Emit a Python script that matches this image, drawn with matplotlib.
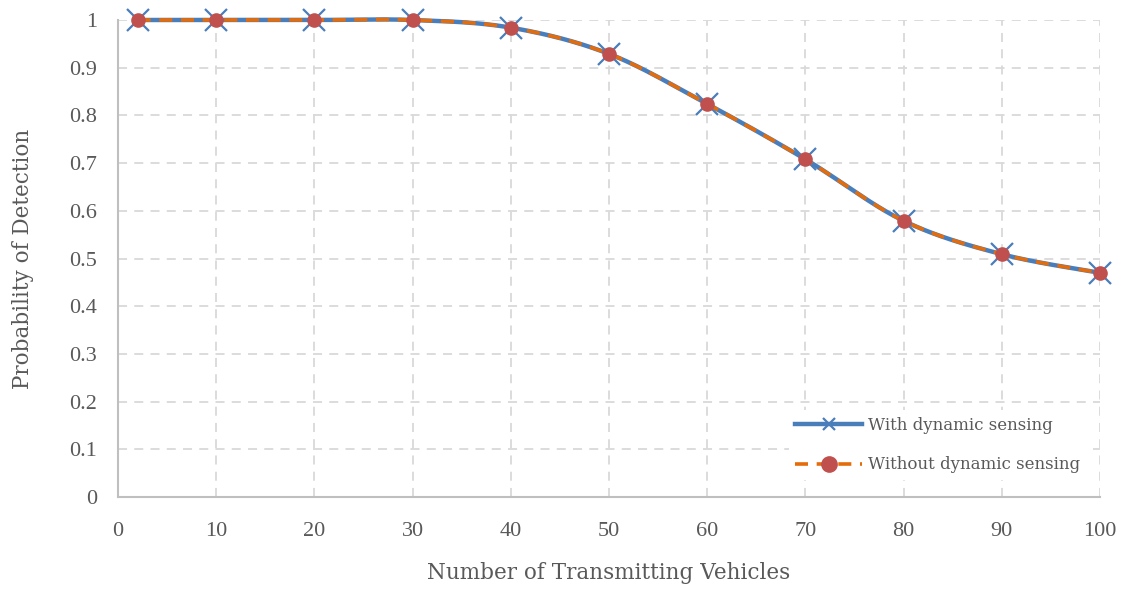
import numpy as np
import matplotlib
matplotlib.use("Agg")
import matplotlib.pyplot as plt
from matplotlib.lines import Line2D

# Data
vehicles = [2, 10, 20, 30, 40, 50, 60, 70, 80, 90, 100]
with_sensing = [1.0, 1.0, 1.0, 1.0, 0.984, 0.929, 0.824, 0.708, 0.579, 0.509, 0.470]
without_sensing = [1.0, 1.0, 1.0, 1.0, 0.984, 0.929, 0.824, 0.708, 0.579, 0.509, 0.470]
x_ticks = [0, 10, 20, 30, 40, 50, 60, 70, 80, 90, 100]
y_ticks = [0, 0.1, 0.2, 0.3, 0.4, 0.5, 0.6, 0.7, 0.8, 0.9, 1]
y_tick_labels = ["0", "0.1", "0.2", "0.3", "0.4", "0.5", "0.6", "0.7", "0.8", "0.9", "1"]


def smooth(xs, ys, n=40):
    """Catmull-Rom style smoothing (spreadsheet 'smoothed line')."""
    xs = np.asarray(xs, float)
    ys = np.asarray(ys, float)
    px = np.concatenate([[xs[0]], xs, [xs[-1]]])
    py = np.concatenate([[ys[0]], ys, [ys[-1]]])
    ox, oy = [], []
    for i in range(1, len(px) - 2):
        p0 = np.array([px[i - 1], py[i - 1]])
        p1 = np.array([px[i], py[i]])
        p2 = np.array([px[i + 1], py[i + 1]])
        p3 = np.array([px[i + 2], py[i + 2]])
        c1 = p1 + (p2 - p0) / 6.0
        c2 = p2 - (p3 - p1) / 6.0
        t = np.linspace(0, 1, n)[:, None]
        b = ((1 - t) ** 3) * p1 + 3 * ((1 - t) ** 2) * t * c1 + 3 * (1 - t) * t ** 2 * c2 + t ** 3 * p2
        ox.extend(b[:, 0])
        oy.extend(b[:, 1])
    return np.array(ox), np.array(oy)


text_font = ["DejaVu Serif"]
num_font = ["Liberation Serif", "DejaVu Serif"]
text_color = "#595959"
blue = "#4A7EBB"
orange = "#E46C0A"
red = "#C0504D"

fig = plt.figure(figsize=(11.28, 5.9), dpi=100)
ax = fig.add_axes([118 / 1128, 1 - 497 / 590, (1100 - 118) / 1128, (497 - 20) / 590])

ax.set_xlim(0, 100)
ax.set_ylim(0, 1)

# grid
grid_kw = dict(color="#D9D9D9", lw=1.3, dashes=(5, 4), zorder=0)
for xv in x_ticks[1:]:
    ax.axvline(xv, **grid_kw)
for yv in y_ticks[1:]:
    ax.axhline(yv, **grid_kw)

for side in ["top", "right"]:
    ax.spines[side].set_visible(False)
for side in ["left", "bottom"]:
    ax.spines[side].set_color("#BFBFBF")
    ax.spines[side].set_linewidth(1.5)

sx, sy = smooth(vehicles, with_sensing)
ax.plot(sx, sy, color=blue, lw=3.2, zorder=3, solid_capstyle="round", clip_on=False)
ax.plot(vehicles, with_sensing, ls="none", marker="x", ms=16, mew=1.6, color=blue,
        zorder=4, clip_on=False)

ux, uy = smooth(vehicles, without_sensing)
ax.plot(ux, uy, color=orange, lw=2.6, dashes=(3.6, 2.4), zorder=5, clip_on=False)
ax.plot(vehicles, without_sensing, ls="none", marker="o", ms=9.5, color=red, mec=red,
        zorder=6, clip_on=False)

ax.set_xticks(x_ticks)
ax.set_yticks(y_ticks)
ax.set_yticklabels(y_tick_labels)
ax.tick_params(axis="both", length=0, labelsize=16, labelcolor=text_color)
ax.tick_params(axis="x", pad=18)
ax.tick_params(axis="y", pad=15)
for lbl in ax.get_xticklabels() + ax.get_yticklabels():
    lbl.set_fontfamily(num_font)

fig.text(609 / 1128, 1 - 573 / 590, "Number of Transmitting Vehicles", fontsize=15.5,
         color=text_color, family=text_font, ha="center", va="center")
fig.text(23 / 1128, 1 - 259 / 590, "Probability of Detection", fontsize=15.5,
         color=text_color, family=text_font, ha="center", va="center", rotation=90)

handles = [
    Line2D([], [], color=blue, lw=3.2, marker="x", ms=9, mew=1.6),
    Line2D([], [], color=orange, lw=2.6, dashes=(3.6, 2.4), marker="o", ms=11, mfc=red, mec=red),
]
leg = ax.legend(handles, ["With dynamic sensing", "Without dynamic sensing"],
                loc="lower right", bbox_to_anchor=(0.995, 0.018), frameon=True,
                prop={"family": text_font, "size": 12}, labelcolor=text_color,
                handlelength=4.0, labelspacing=1.35, borderpad=0.4, handletextpad=0.35)
leg.get_frame().set_edgecolor("none")
leg.get_frame().set_facecolor("white")
leg.get_frame().set_alpha(1)
leg.set_zorder(10)

fig.savefig("out.png", dpi=100)
